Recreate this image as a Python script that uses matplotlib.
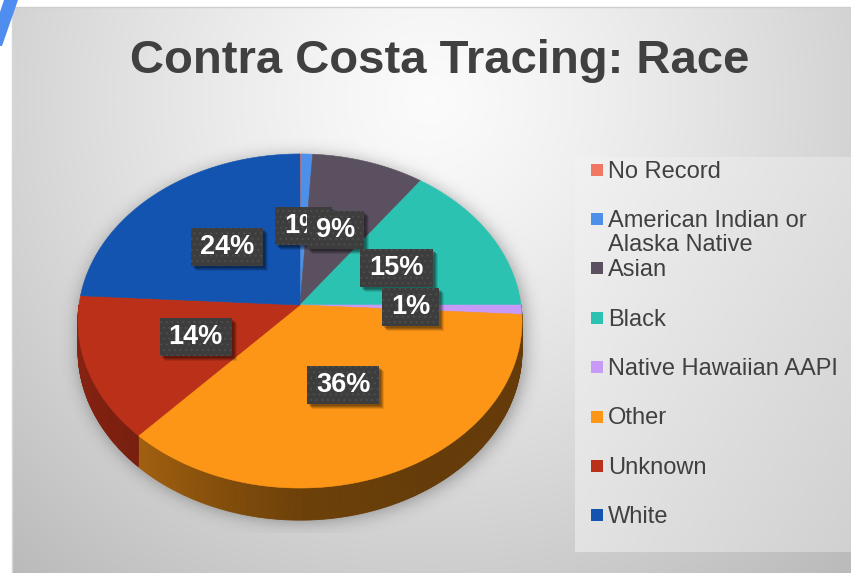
import numpy as np
import matplotlib
matplotlib.use("Agg")
import matplotlib.pyplot as plt
from matplotlib.patches import Polygon, Rectangle
from matplotlib.collections import PolyCollection
from matplotlib.colors import to_rgb

# ---- data -------------------------------------------------------------
title = "Contra Costa Tracing: Race"
categories = ["No Record", "American Indian or\nAlaska Native", "Asian", "Black",
              "Native Hawaiian AAPI", "Other", "Unknown", "White"]
shares = [0.1, 0.9, 9.0, 15.0, 0.9, 36.0, 14.0, 24.1]
colors = ["#f07862", "#4d90ea", "#5b5060", "#2cc2b2",
          "#c69af6", "#fd9616", "#bb3018", "#1254b0"]

FONT = ["Liberation Sans", "DejaVu Sans"]
TEXT_COLOR = "#404040"

W, H = 851, 573
fig = plt.figure(figsize=(W / 100, H / 100), dpi=100)
ax = fig.add_axes([0, 0, 1, 1])
ax.axis("off")

yy, xx = np.mgrid[0:H, 0:W] + 0.5

# ---- chart-area background (soft radial gradient) ----------------------
r = np.sqrt(((xx - 430) / 560) ** 2 + ((yy - 100) / 560) ** 2)
val = 0.985 - 0.22 * np.clip(r, 0, 1.2) ** 1.25
bg = np.dstack([val, val, val])
outside = (xx < 12) | (yy < 7)
bg[outside] = 1.0
ax.imshow(bg, extent=(0, W, H, 0), origin="upper", aspect="auto", zorder=0,
          interpolation="bilinear")
ax.plot([12, W], [7, 7], color="#cfcfcf", lw=1, zorder=1)
ax.plot([12, 12], [7, H], color="#d6d6d6", lw=1, zorder=1)
ax.add_patch(Polygon([(4, 0), (18, 0), (2, 46), (0, 46), (0, 12)],
                     closed=True, fc="#4f8ef0", ec="none", zorder=1))

# ---- 3-D pie geometry ---------------------------------------------------
CX, CY = 300.0, 305.0      # projected centre of the top face
RX, RY = 221.0, 165.5      # radii of the top face
PERSP = 0.0958             # perspective strength (near side larger)
DEPTH = 29.0               # thickness of the pie


def project(phi, rad=1.0, drop=0.0):
    u = rad * np.sin(phi)
    v = -rad * np.cos(phi)
    s = 1.0 / (1.0 - PERSP * v)
    return CX + RX * u * s, CY + RY * v * s + drop * s


def inside_top(x, y):
    Y = (y - CY) / RY
    s = 1.0 + PERSP * Y
    v = Y / (1.0 + PERSP * Y)
    u = (x - CX) / (RX * s)
    return u ** 2 + v ** 2 <= 1.0


# soft shadow around the pie
mask = np.zeros((H, W))
for d in np.arange(0, DEPTH + 1, 2.0):
    mask = np.maximum(mask, inside_top(xx - 2, yy - d - 4).astype(float))
sig = 9.0
k = np.exp(-0.5 * (np.arange(-30, 31) / sig) ** 2)
k /= k.sum()
blur = np.apply_along_axis(lambda row: np.convolve(row, k, mode="same"), 1, mask)
blur = np.apply_along_axis(lambda col: np.convolve(col, k, mode="same"), 0, blur)
shadow = np.zeros((H, W, 4))
shadow[..., 3] = 0.38 * blur
clip = (xx < 58) | (xx > 548) | (yy > 533)
shadow[clip, 3] = 0.0
ax.imshow(shadow, extent=(0, W, H, 0), origin="upper", aspect="auto", zorder=2)

total = float(sum(shares))
bounds = np.concatenate([[0.0], np.cumsum(shares)]) / total * 2 * np.pi

# side walls (front half only), shaded by angle
shade_phi = np.radians([90, 150, 180, 195, 210, 225, 250, 270])
shade_val = [0.40, 0.40, 0.43, 0.50, 0.58, 0.65, 0.71, 0.73]
quads, qcols = [], []
for i, c in enumerate(colors):
    a0 = max(bounds[i], np.pi / 2)
    a1 = min(bounds[i + 1], 3 * np.pi / 2)
    if a1 <= a0:
        continue
    n = max(2, int(np.degrees(a1 - a0) / 0.5) + 1)
    ph = np.linspace(a0, a1, n)
    base = np.array(to_rgb(c))
    for p0, p1 in zip(ph[:-1], ph[1:]):
        x0, y0 = project(p0)
        x1, y1 = project(p1)
        x0b, y0b = project(p0, drop=DEPTH)
        x1b, y1b = project(p1, drop=DEPTH)
        quads.append([(x0, y0), (x1, y1), (x1b, y1b), (x0b, y0b)])
        f = np.interp(0.5 * (p0 + p1), shade_phi, shade_val)
        qcols.append(tuple(base * f))
ax.add_collection(PolyCollection(quads, facecolors=qcols, edgecolors=qcols,
                                 linewidths=0.6, zorder=3))

# top faces
for i, c in enumerate(colors):
    a0, a1 = bounds[i], bounds[i + 1]
    if a1 - a0 <= 0:
        continue
    n = max(2, int(np.degrees(a1 - a0) / 0.5) + 1)
    ph = np.linspace(a0, a1, n)
    pts = [project(p) for p in ph]
    ax.add_patch(Polygon([(CX, CY)] + pts, closed=True, fc=c, ec=c,
                         lw=0.4, zorder=4))

# ---- data labels --------------------------------------------------------
ax.set_xlim(0, W)
ax.set_ylim(H, 0)
plt.rcParams["hatch.linewidth"] = 0.8
labels = []
for i, v in enumerate(shares):
    pct = int(round(v / total * 100))
    if pct == 0:
        continue
    mid = 0.5 * (bounds[i] + bounds[i + 1])
    lx, ly = project(mid, rad=0.5)
    t = ax.text(lx, ly, f"{pct}%", ha="center", va="center", color="white",
                fontsize=19.5, fontweight="bold", family=FONT, zorder=12 + 3 * i)
    labels.append((t, i))

fig.canvas.draw()
renderer = fig.canvas.get_renderer()
inv = ax.transData.inverted()
for t, i in labels:
    bb = t.get_window_extent(renderer)
    (bx0, by1), (bx1, by0) = inv.transform([[bb.x0, bb.y0], [bb.x1, bb.y1]])
    cx, cy = t.get_position()
    bw = (bx1 - bx0) + 18
    bh = 38
    for off, al in ((5, 0.10), (4, 0.14), (3, 0.18), (2, 0.16)):
        ax.add_patch(Rectangle((cx - bw / 2 + off, cy - bh / 2 + off), bw, bh,
                               fc="black", ec="none", alpha=al, zorder=10 + 3 * i))
    ax.add_patch(Rectangle((cx - bw / 2, cy - bh / 2), bw, bh, fc="#3d3d3d",
                           ec="#4d4d4d", lw=0, hatch="...", zorder=11 + 3 * i))

# ---- legend -------------------------------------------------------------
LX0, LY0, LX1, LY1 = 575, 157, W, 552
gy, gx = np.mgrid[0:LY1 - LY0, 0:LX1 - LX0]
g = 0.948 - 0.07 * (gx / (LX1 - LX0)) - 0.06 * (gy / (LY1 - LY0))
ax.imshow(np.dstack([g, g, g]), extent=(LX0, LX1, LY1, LY0), origin="upper",
          aspect="auto", zorder=5)
row0, step = 169.5, 49.4
for i, (name, c) in enumerate(zip(categories, colors)):
    yc = row0 + i * step
    ax.add_patch(Rectangle((591, yc - 6), 12, 12, fc=c, ec="none", zorder=6))
    ax.text(608, yc - 9, name, ha="left", va="top", fontsize=17,
            color=TEXT_COLOR, family=FONT, linespacing=1.12, zorder=6)

# ---- title --------------------------------------------------------------
ax.text(440, 73, title, ha="center", va="baseline", fontsize=34,
        fontweight="bold", color=TEXT_COLOR, family=FONT, zorder=6)

ax.set_xlim(0, W)
ax.set_ylim(H, 0)
fig.savefig("out.png", dpi=100)
